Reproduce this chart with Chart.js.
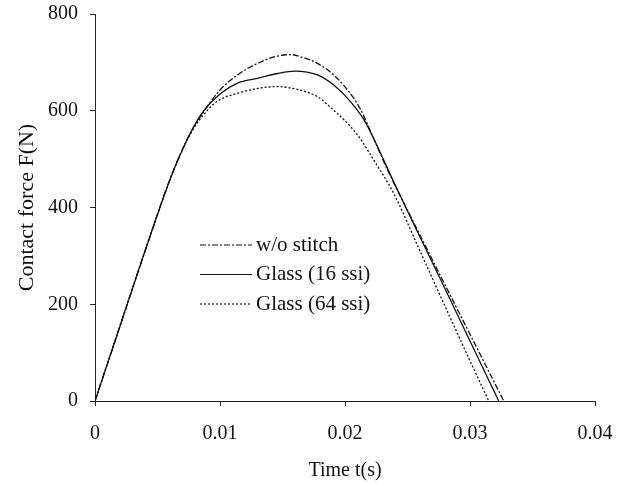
<!DOCTYPE html>
<html>
<head>
<meta charset="utf-8">
<script src="https://cdn.jsdelivr.net/npm/chart.js@4"></script>
<style>
  html, body { margin: 0; padding: 0; background: #fff; }
  #wrap { width: 624px; height: 485px; }
</style>
</head>
<body>
<div id="wrap"><canvas id="c" width="624" height="485"></canvas></div>
<script>
// time (s) and contact force (N)
const tNoStitch = [0, 0.002, 0.004, 0.006, 0.007, 0.0078, 0.0087, 0.0100, 0.0114, 0.0130, 0.0146, 0.0157, 0.0164, 0.0178, 0.0191, 0.0202, 0.0212, 0.0220, 0.0234, 0.0245, 0.0260, 0.0280, 0.0300, 0.0327];
const fNoStitch = [0, 155, 310, 458, 520, 562, 598, 643, 674, 698, 713, 716, 712, 698, 674, 643, 605, 560, 478, 420, 343, 240, 138, 0];

const tGlass16 = [0, 0.002, 0.004, 0.006, 0.007, 0.0078, 0.0087, 0.0098, 0.0114, 0.0130, 0.0146, 0.0160, 0.0178, 0.0191, 0.0204, 0.0215, 0.0223, 0.0242, 0.0260, 0.0280, 0.0300, 0.0323];
const fGlass16 = [0, 155, 310, 458, 520, 562, 600, 630, 657, 667, 677, 682, 674, 653, 620, 582, 542, 436, 339, 232, 124, 0];

const tGlass64 = [0, 0.002, 0.004, 0.006, 0.007, 0.0078, 0.0087, 0.0098, 0.0114, 0.0130, 0.0146, 0.0162, 0.0178, 0.0191, 0.0202, 0.0212, 0.0223, 0.0239, 0.0260, 0.0280, 0.0300, 0.0315];
const fGlass64 = [0, 155, 310, 458, 520, 560, 592, 620, 636, 646, 650, 644, 629, 601, 574, 543, 498, 429, 310, 196, 83, 0];

const xTicks = [0, 0.01, 0.02, 0.03, 0.04];
const yTicks = [0, 200, 400, 600, 800];

const seriesNames = ['w/o stitch', 'Glass (16 ssi)', 'Glass (64 ssi)'];
const dashes = [[6, 2, 2, 2], [], [2, 2]];

function pts(t, f) { return t.map((v, i) => ({ x: v, y: f[i] })); }

const FONT = 'Liberation Serif, Times New Roman, serif';

// legend drawn inside the plot area
const innerLegend = {
  id: 'innerLegend',
  afterDraw(chart) {
    const ctx = chart.ctx;
    const x0 = 200, x1 = 252, y0 = 245, gap = 29.5;
    ctx.save();
    ctx.font = '21px ' + FONT;
    ctx.fillStyle = '#111';
    ctx.textBaseline = 'middle';
    seriesNames.forEach((name, i) => {
      const y = y0 + i * gap;
      ctx.beginPath();
      ctx.setLineDash(dashes[i]);
      ctx.lineWidth = 1.2;
      ctx.strokeStyle = '#111';
      ctx.moveTo(x0, y);
      ctx.lineTo(x1, y);
      ctx.stroke();
      ctx.setLineDash([]);
      ctx.fillText(name, x1 + 4, y);
    });
    ctx.restore();
  }
};

const ds = (label, t, f, i) => ({
  label: label,
  data: pts(t, f),
  borderColor: '#111',
  borderWidth: 1.3,
  borderDash: dashes[i],
  pointRadius: 0,
  showLine: true,
  fill: false,
  cubicInterpolationMode: 'monotone'
});

new Chart(document.getElementById('c').getContext('2d'), {
  type: 'scatter',
  data: {
    datasets: [
      ds(seriesNames[0], tNoStitch, fNoStitch, 0),
      ds(seriesNames[1], tGlass16, fGlass16, 1),
      ds(seriesNames[2], tGlass64, fGlass64, 2)
    ]
  },
  options: {
    responsive: false,
    animation: false,
    layout: { padding: { left: 0, right: 29, top: 14, bottom: 0 } },
    plugins: { legend: { display: false }, tooltip: { enabled: false } },
    scales: {
      x: {
        type: 'linear',
        min: 0, max: 0.04,
        afterBuildTicks: s => { s.ticks = xTicks.map(v => ({ value: v })); },
        afterFit: s => { s.height = 84; s.paddingLeft = 0; s.paddingRight = 0; },
        grid: { drawOnChartArea: false, drawTicks: true, tickLength: 5, color: '#222' },
        border: { color: '#222', width: 1 },
        ticks: {
          padding: 16,
          color: '#111',
          font: { family: FONT, size: 20 },
          callback: v => String(v)
        },
        title: {
          display: true, text: 'Time t(s)', color: '#111',
          font: { family: FONT, size: 20 },
          padding: { top: 0, bottom: 2 }
        }
      },
      y: {
        type: 'linear',
        min: 0, max: 800,
        afterBuildTicks: s => { s.ticks = yTicks.map(v => ({ value: v })); },
        afterFit: s => { s.width = 95; s.paddingTop = 0; s.paddingBottom = 0; },
        grid: { drawOnChartArea: false, drawTicks: true, tickLength: 5, color: '#222' },
        border: { color: '#222', width: 1 },
        ticks: {
          padding: 12,
          color: '#111',
          font: { family: FONT, size: 20 }
        },
        title: {
          display: true, text: 'Contact force F(N)', color: '#111',
          font: { family: FONT, size: 22 },
          padding: { top: 14, bottom: 0 }
        }
      }
    }
  },
  plugins: [innerLegend]
});
</script>
</body>
</html>
